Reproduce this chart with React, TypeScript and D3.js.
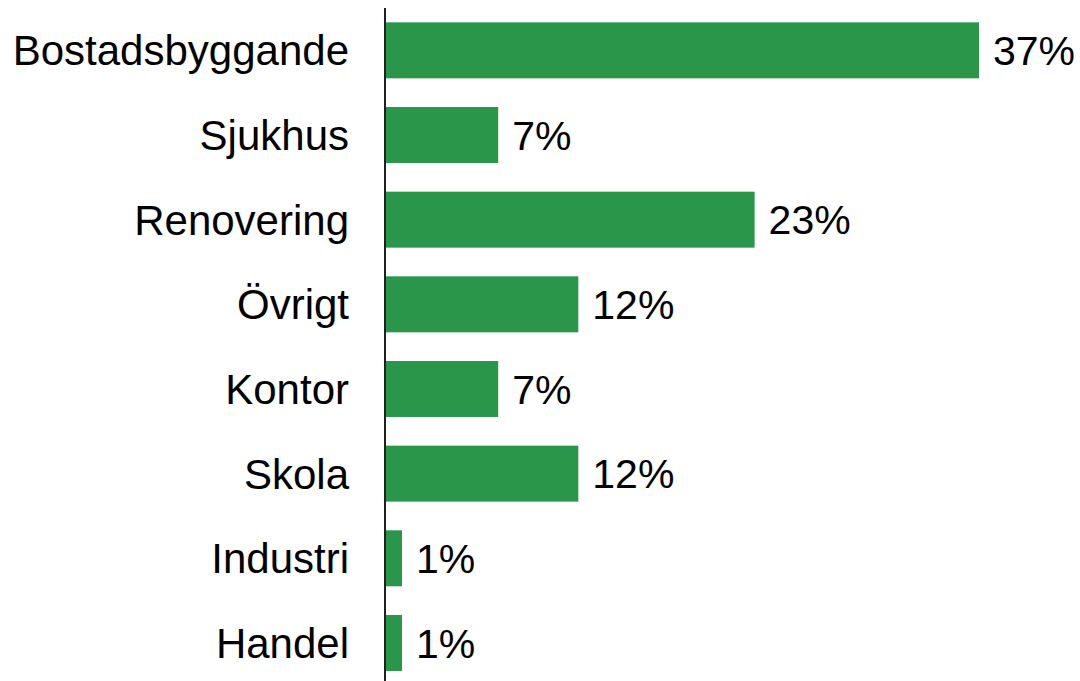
import * as d3 from 'd3';
import { useEffect, useRef } from 'react';

// Categories and shares (%), top to bottom
const categories = ['Bostadsbyggande', 'Sjukhus', 'Renovering', 'Övrigt', 'Kontor', 'Skola', 'Industri', 'Handel'];
const shares = [37, 7, 23, 12, 7, 12, 1, 1];

const BarChart = () => {
  const ref = useRef<SVGSVGElement>(null);

  useEffect(() => {
    const svg = d3.select(ref.current);
    svg.selectAll('*').remove();

    const width = 1080, height = 681;
    const axisX = 385;
    const font = 'Liberation Sans, Arial, sans-serif';

    svg.attr('width', width).attr('height', height);

    // Horizontal scale: ~16px per percent, starting just right of the axis line
    const x = d3.scaleLinear().domain([0, 37]).range([386, 979]);

    // Vertical band scale for the categories
    const y = d3.scaleBand<string>()
      .domain(categories)
      .range([8, 685.3])
      .paddingInner(0.339)
      .paddingOuter(0.1695);

    const rows = categories.map((c, i) => ({ label: c, value: shares[i] }));

    // Bars
    svg.selectAll('rect')
      .data(rows)
      .enter()
      .append('rect')
      .attr('x', x(0))
      .attr('y', d => y(d.label)!)
      .attr('width', d => x(d.value) - x(0))
      .attr('height', y.bandwidth())
      .attr('fill', '#29964a');

    // Vertical axis line
    svg.append('line')
      .attr('x1', axisX).attr('x2', axisX)
      .attr('y1', 8).attr('y2', height)
      .attr('stroke', '#231f20')
      .attr('stroke-width', 2);

    // Category labels
    svg.selectAll('text.cat')
      .data(rows)
      .enter()
      .append('text')
      .attr('class', 'cat')
      .attr('x', 349)
      .attr('y', d => y(d.label)! + y.bandwidth() / 2)
      .attr('dy', '0.36em')
      .attr('text-anchor', 'end')
      .style('font-family', font)
      .style('font-size', '42px')
      .attr('fill', '#000')
      .text(d => d.label);

    // Value labels
    svg.selectAll('text.val')
      .data(rows)
      .enter()
      .append('text')
      .attr('class', 'val')
      .attr('x', d => x(d.value) + 14)
      .attr('y', d => y(d.label)! + y.bandwidth() / 2)
      .attr('dy', '0.36em')
      .style('font-family', font)
      .style('font-size', '41px')
      .attr('fill', '#000')
      .text(d => `${d.value}%`);
  }, []);

  return <svg ref={ref} style={{ position: 'absolute', left: 0, top: 0 }}></svg>;
};

export default function App() {
  return <BarChart />;
}
